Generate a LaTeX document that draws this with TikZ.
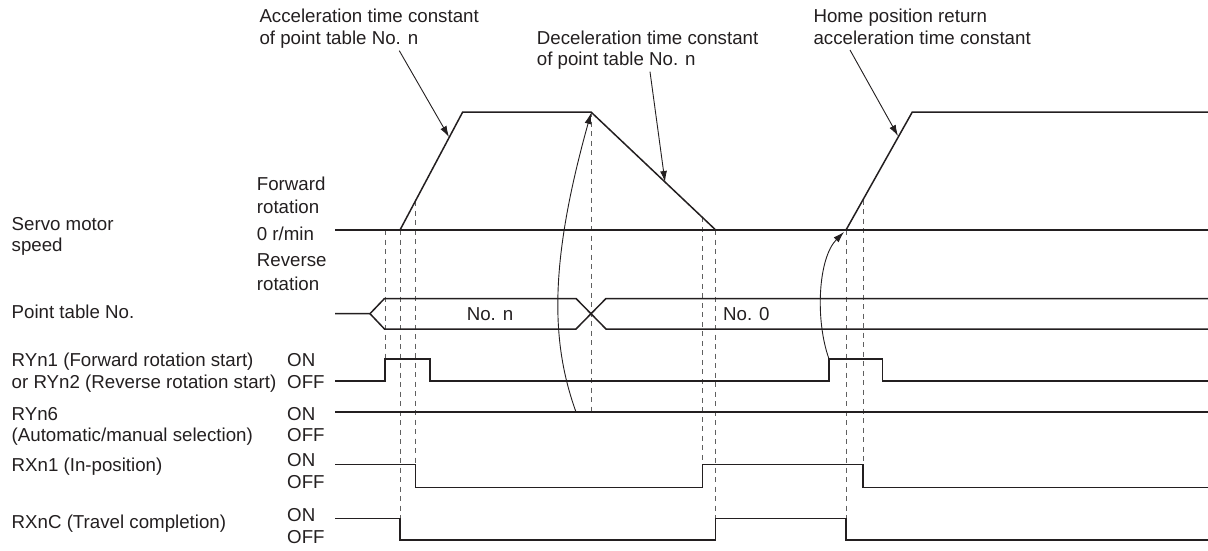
\documentclass[tikz,border=0pt]{standalone}
\usepackage{fontspec}
\setmainfont{Liberation Sans}
\usetikzlibrary{arrows.meta}
\definecolor{ink}{HTML}{231F20}
\definecolor{guidegray}{HTML}{606060}
\begin{document}
\begin{tikzpicture}[x=1pt,y=-1pt,
  sig/.style={draw=ink,line width=1.5pt,line join=miter},
  guide/.style={draw=guidegray,line width=1pt,dash pattern=on 5pt off 4.5pt},
  lbl/.style={inner sep=0pt,anchor=base west,text=ink,font=\fontsize{18.7}{22}\selectfont},
  ann/.style={draw=ink,line width=0.9pt,-{Latex[length=11pt,width=7pt]}},
]
\useasboundingbox (0,0) rectangle (1208,551);

% ---------- left labels ----------
\node[lbl] (l1a) at (11.5,230) {Servo motor};
\node[lbl] (l1b) at (11.5,251.7) {speed};
\node[lbl] (s1) at (256.7,190.7) {Forward};
\node[lbl] (s2) at (256.7,213.3) {rotation};
\node[lbl] (s3) at (256.7,240.7) {0 r/min};
\node[lbl] (s4) at (256.7,266.7) {Reverse};
\node[lbl] (s5) at (256.7,290) {rotation};
\node[lbl] (l2) at (11.5,318.3) {Point table No.};
\node[lbl] (l3a) at (11.5,366.7) {RYn1 (Forward rotation start)};
\node[lbl] (l3b) at (11.5,388.3) {or RYn2 (Reverse rotation start)};
\node[lbl] (on3) at (287,366.7) {ON};
\node[lbl] (off3) at (287,388.3) {OFF};
\node[lbl] (l4a) at (11.5,420) {RYn6};
\node[lbl] (l4b) at (11.5,441.7) {(Automatic/manual selection)};
\node[lbl] (on4) at (287,420) {ON};
\node[lbl] (off4) at (287,441.7) {OFF};
\node[lbl] (l5) at (11.5,471.7) {RXn1 (In-position)};
\node[lbl] (on5) at (287,466.7) {ON};
\node[lbl] (off5) at (287,488.3) {OFF};
\node[lbl] (l6) at (11.5,528.3) {RXnC (Travel completion)};
\node[lbl] (on6) at (287,521.7) {ON};
\node[lbl] (off6) at (287,543.3) {OFF};

% ---------- annotations ----------
\node[lbl] (a1a) at (259.3,22.7) {Acceleration time constant};
\node[lbl] (a1b) at (259.3,44.3) {of point table No. n};
\node[lbl] (a2a) at (536.7,44.3) {Deceleration time constant};
\node[lbl] (a2b) at (536.7,66) {of point table No. n};
\node[lbl] (a3a) at (813.3,22.7) {Home position return};
\node[lbl] (a3b) at (813.3,45) {acceleration time constant};

% ---------- key points ----------
\coordinate (r1s) at (400,230);
\coordinate (r1t) at (462.7,112);
\coordinate (d1s) at (591,112);
\coordinate (d1e) at (715.7,230);
\coordinate (r2s) at (846,230);
\coordinate (r2t) at (912.3,112);

% ---------- guide (dashed) lines ----------
\draw[guide] (385,230) -- (385,359);
\draw[guide] (400,230) -- (400,518.3);
\draw[guide] (415.3,201.2) -- (415.3,464.3);
\draw[guide] (591,112) -- (591,412);
\draw[guide] (702.3,217.3) -- (702.3,464.3);
\draw[guide] (715.7,230) -- (715.7,518.3);
\draw[guide] (846,230) -- (846,518.3);
\draw[guide] (863,199.7) -- (863,464.3);

% ---------- servo motor speed ----------
\draw[sig] (335,230) -- (1208,230);
\draw[sig] (r1s) -- (r1t) -- (d1s) -- (d1e);
\draw[sig] (r2s) -- (r2t) -- (1208,112);

% ---------- point table ----------
\draw[sig] (335,313.7) -- (370,313.7) -- (384.5,298.5) -- (576,298.5) -- (606,329) -- (1208,329);
\draw[sig] (370,313.7) -- (384.5,329) -- (576,329) -- (606,298.5) -- (1208,298.5);
\node[lbl,anchor=center] (pn) at (490,314) {No. n};
\node[lbl,anchor=west] (p0) at (723,314) {No. 0};

% ---------- RYn1 / RYn2 ----------
\draw[sig] (335,381) -- (385,381) -- (385,359) -- (430,359) -- (430,381) -- (829,381) -- (829,359) -- (882.3,359) -- (882.3,381) -- (1208,381);
% ---------- RYn6 ----------
\draw[sig] (335,412) -- (1208,412);
% ---------- RXn1 ----------
\draw[sig] (335,464.3) -- (415.3,464.3) -- (415.3,487.3) -- (702.3,487.3) -- (702.3,464.3) -- (863,464.3) -- (863,487.3) -- (1208,487.3);
% ---------- RXnC ----------
\draw[sig] (335,518.3) -- (400,518.3) -- (400,540) -- (715.7,540) -- (715.7,518.3) -- (846,518.3) -- (846,540) -- (1208,540);

% ---------- arrows ----------
\coordinate (c1s) at (576,412);
\coordinate (c1e) at (591,113);
\draw[ann] (c1s) .. controls (550,340) and (550,260) .. (c1e);
\coordinate (c2s) at (829,359);
\coordinate (c2e) at (844,232);
\draw[ann] (c2s) .. controls (815,320) and (818,258) .. (c2e);

\coordinate (t1) at (399.3,50.7);
\coordinate (h1) at (449,137);
\draw[ann] (t1) -- (h1);
\coordinate (t2) at (650,71.7);
\coordinate (h2) at (665,182);
\draw[ann] (t2) -- (h2);
\coordinate (t3) at (850,50);
\coordinate (h3) at (898,136);
\draw[ann] (t3) -- (h3);
\end{tikzpicture}
\end{document}
